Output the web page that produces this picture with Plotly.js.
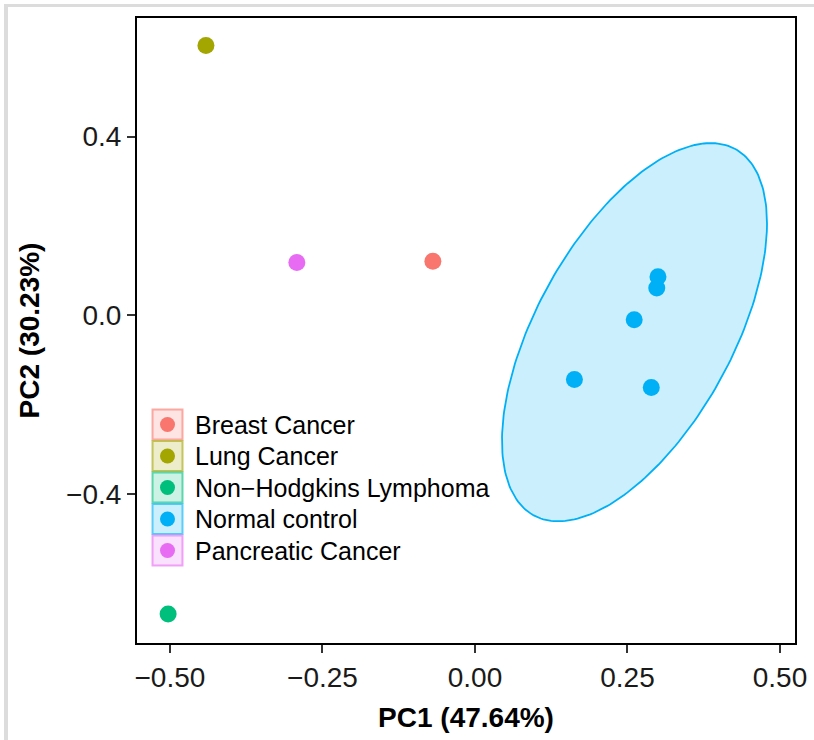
<!DOCTYPE html>
<html>
<head>
<meta charset="utf-8">
<script src="https://cdn.plot.ly/plotly-3.0.1.min.js"></script>
<style>
  html, body { margin: 0; padding: 0; background: #ffffff; }
  #wrap { position: relative; width: 814px; height: 740px; overflow: hidden; }
  #topband { position: absolute; left: 4px; top: 4px; width: 810px; height: 3px; background: #dcdcdc; z-index: 5; }
  #leftband { position: absolute; left: 4px; top: 4px; width: 4px; height: 736px; background: #dcdcdc; z-index: 5; }
  #chart { position: absolute; left: 0; top: 0; width: 814px; height: 740px; }
</style>
</head>
<body>
<div id="wrap">
  <div id="chart"></div>
  <div id="topband"></div>
  <div id="leftband"></div>
</div>
<script>
// ---- data ----
const groups = ["Breast Cancer", "Lung Cancer", "Non\u2212Hodgkins Lymphoma", "Normal control", "Pancreatic Cancer"];
const groupColors = ["#F8766D", "#A3A500", "#00BF7D", "#00B0F6", "#E76BF3"];

const breastPC1 = [-0.069];
const breastPC2 = [0.121];
const lungPC1 = [-0.441];
const lungPC2 = [0.604];
const nhlPC1 = [-0.503];
const nhlPC2 = [-0.669];
const normalPC1 = [0.300, 0.298, 0.261, 0.163, 0.289];
const normalPC2 = [0.086, 0.061, -0.010, -0.144, -0.162];
const pancreaticPC1 = [-0.292];
const pancreaticPC2 = [0.118];

// ellipse around "Normal control" (centre and shape)
const ellipseCenter = [0.2615, -0.0381];
const ellipseXcos = 0.2172;
const ellipseYcos = 0.2436;
const ellipseYsin = 0.3464;

const xTickVals = [-0.5, -0.25, 0, 0.25, 0.5];
const yTickVals = [-0.4, 0, 0.4];

const xTitle = "PC1 (47.64%)";
const yTitle = "PC2 (30.23%)";

// ---- build ----
const ex = [], ey = [];
for (let i = 0; i <= 240; i++) {
  const t = 2 * Math.PI * i / 240;
  ex.push(ellipseCenter[0] + ellipseXcos * Math.cos(t));
  ey.push(ellipseCenter[1] + ellipseYcos * Math.cos(t) + ellipseYsin * Math.sin(t));
}

const seriesX = [breastPC1, lungPC1, nhlPC1, normalPC1, pancreaticPC1];
const seriesY = [breastPC2, lungPC2, nhlPC2, normalPC2, pancreaticPC2];

const traces = [{
  type: "scatter", mode: "lines", x: ex, y: ey,
  fill: "toself", fillcolor: "rgba(0,176,246,0.2)",
  line: { color: "#00B0F6", width: 1.8 },
  showlegend: false, hoverinfo: "skip"
}];
groups.forEach((g, i) => {
  traces.push({
    type: "scatter", mode: "markers", name: g,
    x: seriesX[i], y: seriesY[i],
    marker: { color: groupColors[i], size: 17 },
    showlegend: false
  });
});

// ---- legend (drawn as keys + labels inside the panel, ggplot style) ----
const M = { l: 137, r: 19, t: 18, b: 97 };
const W = 814, H = 740;
const pw = W - M.l - M.r, ph = H - M.t - M.b;
const px2x = v => (v - M.l) / pw;
const px2y = v => 1 - (v - M.t) / ph;
const keyCx = 167.5, keyTop = 424.5, keyStep = 31.5, keyHalf = 15, dotR = 7.5, labelX = 193;

function rgba(hex, a) {
  const r = parseInt(hex.slice(1, 3), 16), g = parseInt(hex.slice(3, 5), 16), b = parseInt(hex.slice(5, 7), 16);
  return `rgba(${r},${g},${b},${a})`;
}

const font = "Liberation Sans, Arial, sans-serif";
const shapes = [], annotations = [];
groups.forEach((g, i) => {
  const cy = keyTop + keyStep * i;
  shapes.push({
    type: "rect", xref: "paper", yref: "paper", layer: "above",
    x0: px2x(keyCx - keyHalf), x1: px2x(keyCx + keyHalf),
    y0: px2y(cy + keyHalf), y1: px2y(cy - keyHalf),
    fillcolor: rgba(groupColors[i], 0.2),
    line: { color: rgba(groupColors[i], 0.6), width: 2 }
  });
  shapes.push({
    type: "circle", xref: "paper", yref: "paper", layer: "above",
    x0: px2x(keyCx - dotR), x1: px2x(keyCx + dotR),
    y0: px2y(cy + dotR), y1: px2y(cy - dotR),
    fillcolor: groupColors[i], line: { width: 0 }
  });
  annotations.push({
    xref: "paper", yref: "paper", x: px2x(labelX), y: px2y(cy),
    xanchor: "left", yanchor: "middle", showarrow: false, text: g,
    font: { family: font, size: 25, color: "#000000" }
  });
});

const layout = {
  width: W, height: H,
  margin: M,
  paper_bgcolor: "rgba(0,0,0,0)",
  plot_bgcolor: "#ffffff",
  font: { family: font, size: 24, color: "#000000" },
  showlegend: false,
  shapes: shapes,
  annotations: annotations,
  xaxis: {
    range: [-0.554, 0.5246],
    tickvals: xTickVals, tickformat: ".2f",
    ticks: "outside", ticklen: 8, tickwidth: 2, tickcolor: "#333333",
    showline: true, linecolor: "#000000", linewidth: 2, mirror: true,
    showgrid: false, zeroline: false,
    tickfont: { family: font, size: 28, color: "#1a1a1a" },
    title: { text: xTitle, font: { family: font, size: 28, weight: "bold", color: "#000000" }, standoff: 16 },
    automargin: false
  },
  yaxis: {
    range: [-0.734, 0.6655],
    tickvals: yTickVals, tickformat: ".1f",
    ticks: "outside", ticklen: 8, tickwidth: 2, tickcolor: "#333333",
    showline: true, linecolor: "#000000", linewidth: 2, mirror: true,
    showgrid: false, zeroline: false,
    tickfont: { family: font, size: 28, color: "#1a1a1a" },
    title: { text: yTitle, font: { family: font, size: 28, weight: "bold", color: "#000000" }, standoff: 18 },
    automargin: false
  }
};

Plotly.newPlot("chart", traces, layout, { staticPlot: true, displayModeBar: false });
</script>
</body>
</html>
